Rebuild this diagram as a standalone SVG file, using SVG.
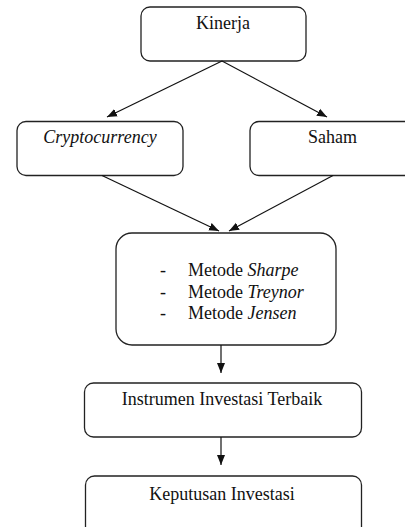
<svg xmlns="http://www.w3.org/2000/svg" width="405" height="527" viewBox="0 0 405 527">
<defs>
<style>
.box{fill:#fff;stroke:#222;stroke-width:1.3}
.t{font-family:"Liberation Serif","Times New Roman",serif;font-size:18px;fill:#111}
.c{text-anchor:middle}
.i{font-style:italic}
.ln{stroke:#111;stroke-width:1.2;fill:none;marker-end:url(#ah)}
</style>
<marker id="ah" markerUnits="userSpaceOnUse" markerWidth="10" markerHeight="10" viewBox="0 0 10 10" refX="10" refY="5" orient="auto">
<path d="M0,1 L10,5 L0,9 Z" fill="#111"/>
</marker>
</defs>
<rect width="405" height="527" fill="#fff"/>
<g id="kinerja">
<rect class="box" x="141" y="7" width="165" height="54" rx="9"/>
<text class="t c" x="223" y="29">Kinerja</text>
</g>
<g id="cryptocurrency">
<rect class="box" x="17" y="121.5" width="166" height="54" rx="9"/>
<text class="t c i" x="100" y="143">Cryptocurrency</text>
</g>
<g id="saham">
<rect class="box" x="250" y="121.5" width="170" height="54" rx="9"/>
<text class="t" x="308" y="143">Saham</text>
</g>
<g id="metode">
<rect class="box" x="116" y="233" width="220" height="112" rx="16"/>
<text class="t" x="160" y="276">-</text>
<text class="t" x="188" y="276">Metode <tspan class="i">Sharpe</tspan></text>
<text class="t" x="160" y="297.5">-</text>
<text class="t" x="188" y="297.5">Metode <tspan class="i">Treynor</tspan></text>
<text class="t" x="160" y="319">-</text>
<text class="t" x="188" y="319">Metode <tspan class="i">Jensen</tspan></text>
</g>
<g id="instrumen">
<rect class="box" x="84.5" y="383" width="277" height="54" rx="9"/>
<text class="t c" x="222" y="405">Instrumen Investasi Terbaik</text>
</g>
<g id="keputusan">
<rect class="box" x="85.5" y="476" width="276" height="70" rx="9"/>
<text class="t c" x="222" y="500">Keputusan Investasi</text>
</g>
<g id="connectors">
<line class="ln" x1="222" y1="61" x2="107" y2="117"/>
<line class="ln" x1="222" y1="61" x2="327" y2="117"/>
<line class="ln" x1="102" y1="175.5" x2="219" y2="231"/>
<line class="ln" x1="333" y1="175.5" x2="229" y2="231"/>
<line class="ln" x1="221" y1="345" x2="221" y2="373"/>
<line class="ln" x1="221" y1="437" x2="221" y2="465"/>
</g>
</svg>
